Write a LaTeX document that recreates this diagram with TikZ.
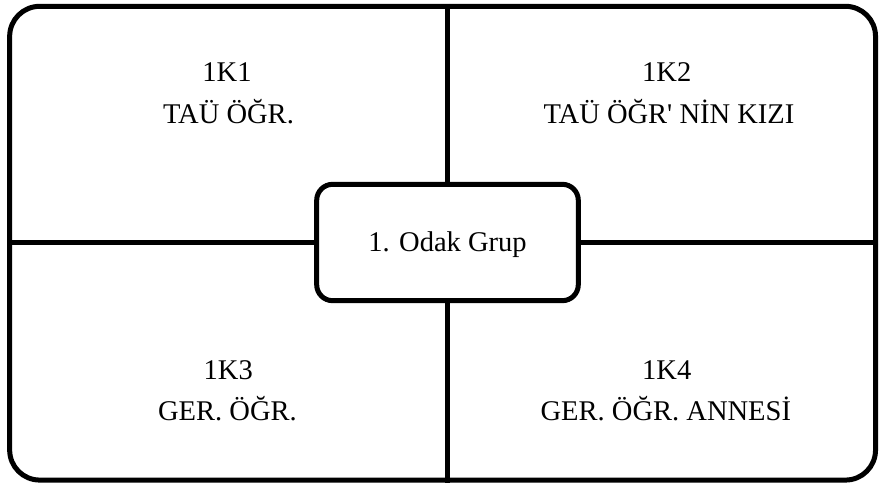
\documentclass[tikz,border=0pt]{standalone}
\usepackage{fontspec}
\setmainfont{LiberationSerif}[Extension=.ttf, UprightFont=*-Regular, BoldFont=*-Bold]
\begin{document}
\begin{tikzpicture}[x=0.75pt, y=-0.75pt, line width=3.75pt,
    label/.style={anchor=base, inner sep=0pt, font=\fontsize{21.4pt}{30pt}\selectfont}]
      \useasboundingbox (0,0) rectangle (879,485);
      \node[draw, rounded corners=22.5pt, minimum width=649.4pt, minimum height=355.3pt] (frame) at (442.6,243.2) {};
      \node[draw, fill=white, rounded corners=12pt, minimum width=196.2pt, minimum height=87.3pt,
            text height=14.2pt, text depth=0pt, font=\fontsize{21.4pt}{30pt}\selectfont] (odak) at (447.5,242.5) {1. Odak Grup};
      \draw (frame.north -| odak) -- (odak.north);
      \draw (frame.south -| odak) -- (odak.south);
      \draw (frame.west |- odak) -- (odak.west);
      \draw (frame.east |- odak) -- (odak.east);
      \node[label] (k1)  at (227,82)    {1K1};
      \node[label] (k1b) at (228.5,123) {TAÜ ÖĞR.};
      \node[label] (k2)  at (666.7,82)  {1K2};
      \node[label] (k2b) at (669,123)   {TAÜ ÖĞR\textquotesingle{} NİN KIZI};
      \node[label] (k3)  at (228.3,379.5) {1K3};
      \node[label] (k3b) at (227.5,420.5) {GER. ÖĞR.};
      \node[label] (k4)  at (666.7,379.5) {1K4};
      \node[label] (k4b) at (665.8,420.5) {GER. ÖĞR. ANNESİ};
\end{tikzpicture}
\end{document}
